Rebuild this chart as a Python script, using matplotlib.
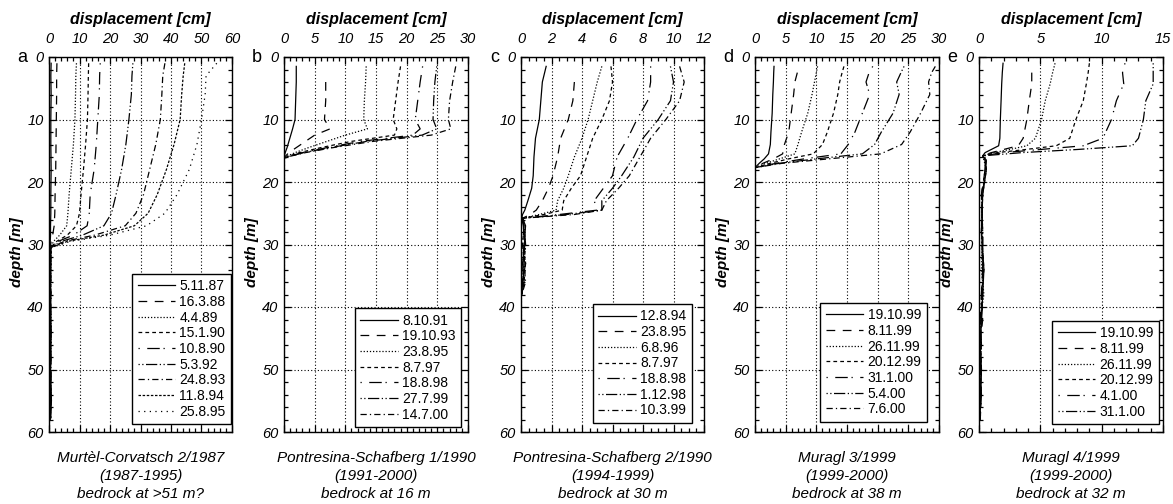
import numpy as np
import matplotlib
matplotlib.use('Agg')
from matplotlib import pyplot as plt
from matplotlib.ticker import MultipleLocator

plt.rcParams['font.family'] = ['Liberation Sans', 'DejaVu Sans']

nan = np.nan

# ---- data ----
# a) Murtel-Corvatsch 2/1987
a_dates = ['5.11.87', '16.3.88', '4.4.89', '15.1.90', '10.8.90', '5.3.92', '24.8.93', '11.8.94', '25.8.95']
a_depth = [1, 3, 6, 10, 14, 18, 22, 25, 27, 28.5, 29.5, 30.5, 33, 38, 44, 50, 55, 58]
a_disp = [
    [0.7, 0.6, 0.7, 0.6, 0.6, 0.7, 0.6, 0.6, 0.5, 0.5, 0.4, 0.4, 0.6, 0.4, 0.7, 0.5, 0.8, 0.4],
    [2.6, 2.5, 2.5, 2.4, 2.3, 2.2, 2.0, 1.9, 1.7, 1.2, 0.7, 0.4, 0.5, 0.6, 0.4, 0.7, 0.5, 0.6],
    [9.0, 8.8, 8.7, 8.5, 8.0, 7.3, 6.6, 6.2, 5.8, 3.5, 1.5, 0.5, 0.6, 0.5, 0.7, 0.5, 0.6, 0.5],
    [13.0, 12.9, 12.8, 12.6, 12.0, 11.3, 10.5, 10.0, 9.0, 6.0, 2.5, 0.5, 0.4, 0.6, 0.5, 0.4, 0.6, 0.5],
    [16.8, 16.6, 16.5, 16.0, 15.5, 14.8, 13.5, 13.2, 12.5, 8.0, 3.0, 0.6, 0.5, 0.4, 0.6, 0.5, 0.4, 0.5],
    [27.5, 27.2, 27.0, 26.2, 25.2, 23.8, 22.0, 20.5, 18.0, 11.0, 4.0, 0.6, 0.4, 0.5, 0.5, 0.6, 0.5, 0.4],
    [38.0, 37.3, 37.0, 36.5, 35.0, 33.0, 31.0, 28.5, 25.0, 15.0, 5.0, 0.6, 0.5, 0.6, 0.4, 0.5, 0.6, 0.5],
    [44.5, 44.0, 43.5, 43.0, 41.0, 38.5, 35.5, 32.5, 28.0, 18.0, 6.0, 0.7, 0.6, 0.5, 0.5, 0.4, 0.5, 0.6],
    [55.0, 51.5, 51.2, 50.0, 48.5, 46.0, 42.0, 38.0, 32.0, 20.0, 7.0, 0.8, 0.6, 0.5, 0.6, 0.5, 0.4, 0.5],
]

# b) Pontresina-Schafberg 1/1990
b_dates = ['8.10.91', '19.10.93', '23.8.95', '8.7.97', '18.8.98', '27.7.99', '14.7.00']
b_depth = [1.5, 4, 7, 10, 11.5, 12.5, 13.5, 14.5, 15.3, 16.0, 16.5]
b_disp = [
    [2.0, 2.0, 1.9, 1.8, 1.4, 1.1, 0.8, 0.5, 0.2, 0.0, 0.0],
    [nan, 6.8, 6.8, 6.6, 7.5, 5.0, 3.5, 2.0, 0.8, 0.1, 0.0],
    [13.4, 13.3, 13.1, 13.0, 13.6, 10.0, 7.0, 4.0, 1.8, 0.2, 0.0],
    [19.0, 18.6, 18.2, 17.8, 18.4, 18.0, 11.0, 6.0, 2.5, 0.4, 0.0],
    [22.6, 22.2, 21.8, 21.4, 22.2, 21.0, 12.5, 7.0, 3.0, 0.4, 0.0],
    [24.9, 24.6, 24.4, 24.3, 24.9, 22.5, 13.5, 7.5, 3.2, 0.5, 0.0],
    [28.0, 27.5, 27.0, 26.8, 27.2, 24.0, 14.5, 8.0, 3.5, 0.5, 0.0],
]

# c) Pontresina-Schafberg 2/1990
c_dates = ['12.8.94', '23.8.95', '6.8.96', '8.7.97', '18.8.98', '1.12.98', '10.3.99']
c_depth = [1.5, 4, 7, 10, 13, 16, 19, 21, 23, 24.5, 25.2, 25.8, 27, 30, 33, 36, 38]
c_disp = [
    [1.65, 1.4, 1.3, 1.2, 0.95, 0.85, 0.8, 0.7, 0.45, 0.25, 0.1, 0.05, 0.15, 0.25, 0.1, 0.2, 0.05],
    [nan, 3.5, 3.4, 3.1, 2.6, 2.4, 2.1, 1.8, 1.4, 1.0, 0.6, 0.1, 0.3, 0.2, 0.3, 0.1, 0.05],
    [5.3, 5.0, 4.7, 4.4, 4.0, 3.5, 3.1, 2.8, 2.4, 2.3, 1.2, 0.1, 0.2, 0.3, 0.2, 0.1, 0.05],
    [5.9, 6.0, 5.8, 5.3, 4.7, 4.3, 3.9, 3.3, 2.8, 2.7, 1.5, 0.1, 0.2, 0.1, 0.3, 0.2, 0.05],
    [8.5, 8.5, 8.3, 7.6, 7.0, 6.3, 6.0, 5.4, 4.8, 5.0, 2.5, 0.1, 0.3, 0.2, 0.1, 0.2, 0.05],
    [9.8, 10.0, 9.8, 9.0, 8.0, 7.4, 6.6, 6.0, 5.3, 5.3, 3.0, 0.1, 0.2, 0.3, 0.2, 0.1, 0.05],
    [10.4, 10.7, 10.4, 9.5, 8.5, 7.8, 7.1, 6.4, 5.6, 5.3, 3.5, 0.1, 0.2, 0.1, 0.2, 0.3, 0.05],
]

# d) Muragl 3/1999
d_dates = ['19.10.99', '8.11.99', '26.11.99', '20.12.99', '31.1.00', '5.4.00', '7.6.00']
d_depth = [1.5, 2.5, 4, 6, 9, 12, 14, 15.5, 16.3, 17.0, 17.7]
d_disp = [
    [3.1, 3.05, 3.0, 2.9, 2.8, 2.6, 2.5, 2.2, 1.5, 0.7, 0.0],
    [nan, 6.9, 6.5, 6.3, 5.9, 5.5, 4.8, 4.5, 3.0, 1.3, 0.0],
    [10.2, 10.0, 9.7, 9.3, 8.6, 7.6, 7.0, 6.5, 4.0, 1.8, 0.0],
    [14.5, 14.2, 13.8, 13.5, 12.8, 11.8, 11.0, 9.5, 5.5, 2.5, 0.0],
    [19.2, 18.6, 18.1, 18.7, 17.5, 16.3, 15.2, 14.0, 8.0, 3.5, 0.0],
    [24.3, 23.8, 23.1, 23.5, 22.5, 20.6, 19.5, 17.5, 10.0, 4.0, 0.0],
    [29.4, 28.8, 28.3, 28.5, 27.0, 25.3, 23.9, 20.5, 12.0, 4.5, 0.0],
]

# e) Muragl 4/1999
e_dates = ['19.10.99', '8.11.99', '26.11.99', '20.12.99', '4.1.00', '31.1.00']
e_depth = [1, 2.5, 4.3, 7, 10, 13, 14.2, 14.8, 15.3, 15.8, 16.5, 18, 22, 28, 34, 38, 42, 46, 50, 54, 58]
e_disp = [
    [1.96, 1.9, 1.85, 1.8, 1.74, 1.7, 1.6, 1.0, 0.5, 0.3, 0.5, 0.6, 0.3, 0.2, 0.4, 0.3, 0.2, 0.1, 0.2, 0.1, 0.1],
    [nan, 4.3, 4.3, 4.1, 3.9, 3.6, 3.2, 2.0, 1.0, 0.3, 0.6, 0.5, 0.2, 0.3, 0.3, 0.2, 0.3, 0.1, 0.1, 0.2, 0.1],
    [6.2, 6.0, 5.8, 5.4, 5.1, 4.6, 3.9, 2.5, 1.2, 0.3, 0.4, 0.6, 0.2, 0.3, 0.2, 0.4, 0.1, 0.2, 0.1, 0.1, 0.1],
    [9.0, 8.9, 8.75, 8.5, 7.9, 7.4, 6.3, 3.8, 1.5, 0.3, 0.5, 0.6, 0.3, 0.2, 0.4, 0.2, 0.2, 0.1, 0.2, 0.1, 0.1],
    [11.9, 11.7, 11.8, 11.2, 10.8, 10.1, 8.5, 5.0, 2.0, 0.3, 0.5, 0.5, 0.2, 0.3, 0.3, 0.2, 0.1, 0.2, 0.1, 0.2, 0.1],
    [14.2, 14.2, 14.2, 13.6, 13.4, 13.0, 12.5, 8.0, 3.5, 0.4, 0.6, 0.5, 0.3, 0.2, 0.3, 0.3, 0.2, 0.1, 0.2, 0.1, 0.1],
]

captions = ['Murtèl-Corvatsch 2/1987\n(1987-1995)\nbedrock at >51 m?',
            'Pontresina-Schafberg 1/1990\n(1991-2000)\nbedrock at 16 m',
            'Pontresina-Schafberg 2/1990\n(1994-1999)\nbedrock at 30 m',
            'Muragl 3/1999\n(1999-2000)\nbedrock at 38 m',
            'Muragl 4/1999\n(1999-2000)\nbedrock at 32 m']
letters = ['a', 'b', 'c', 'd', 'e']
xmax = [60, 30, 12, 30, 15]
xmajor = [10, 5, 2, 5, 5]
xminor = [2, 1, 0.5, 1, 1]

# line styles, same order for every panel
styles = ['-', (0, (7, 6)), (0, (1, 1.5)), (0, (3, 2.5)), (0, (1, 6, 10, 3)),
          (0, (1, 2, 1, 2, 9, 2)), (0, (5, 2.5, 1, 2.5)), (0, (2, 1.3)), (0, (1, 3.5))]

# ---- layout (pixels) ----
W, H = 1173, 504
lefts = [49, 284, 521, 755, 979]
rights = [232, 468, 704, 939, 1163]
top, bottom = 57, 432
leg_anchor = [(0.995, 0.021), (0.962, 0.013), (0.934, 0.024), (0.935, 0.027), (0.978, 0.021)]

fig = plt.figure(figsize=(W / 100, H / 100), dpi=100)

panels = [(a_depth, a_disp, a_dates), (b_depth, b_disp, b_dates), (c_depth, c_disp, c_dates),
          (d_depth, d_disp, d_dates), (e_depth, e_disp, e_dates)]

for i, (depth, disp, dates) in enumerate(panels):
    l, r = lefts[i], rights[i]
    ax = fig.add_axes([l / W, (H - bottom) / H, (r - l) / W, (bottom - top) / H])
    for j, (vals, lab) in enumerate(zip(disp, dates)):
        ax.plot(vals, depth, color='k', lw=0.9, ls=styles[j], label=lab)

    ax.set_xlim(0, xmax[i])
    ax.set_ylim(60, 0)
    ax.xaxis.set_major_locator(MultipleLocator(xmajor[i]))
    ax.xaxis.set_minor_locator(MultipleLocator(xminor[i]))
    ax.yaxis.set_major_locator(MultipleLocator(10))
    ax.yaxis.set_minor_locator(MultipleLocator(2))
    ax.tick_params(which='both', direction='in', top=True, bottom=True, left=True, right=True,
                   labeltop=True, labelbottom=False, width=0.9)
    ax.tick_params(which='major', length=5)
    ax.tick_params(which='minor', length=3)
    ax.tick_params(axis='x', pad=8)
    ax.tick_params(axis='y', pad=4)
    for t in ax.get_xticklabels() + ax.get_yticklabels():
        t.set_fontstyle('italic')
        t.set_fontsize(10.5)
    ax.grid(True, which='major', color='k', ls=(0, (1, 2)), lw=0.8)
    for s in ax.spines.values():
        s.set_linewidth(1.0)

    ax.xaxis.set_label_position('top')
    ax.set_xlabel('displacement [cm]', fontsize=11.5, fontweight='bold', fontstyle='italic', labelpad=6)
    ax.set_ylabel('depth [m]', fontsize=11, fontweight='bold', fontstyle='italic')
    ax.yaxis.set_label_coords(-25 / (r - l), 0.48)

    leg = ax.legend(loc='lower right', bbox_to_anchor=leg_anchor[i], borderaxespad=0,
                    fontsize=10, handlelength=2.7, handletextpad=0.3, labelspacing=0.12,
                    borderpad=0.4, fancybox=False, framealpha=1, edgecolor='k')
    leg.get_frame().set_linewidth(1.0)

    fig.text((l - 22) / W, (H - 62) / H, letters[i], fontsize=13, ha='right', va='baseline')
    fig.text((l + r) / 2 / W, (H - 451) / H, captions[i], fontsize=11, fontstyle='italic',
             ha='center', va='top', linespacing=1.35)

fig.savefig('out.png', dpi=100)
